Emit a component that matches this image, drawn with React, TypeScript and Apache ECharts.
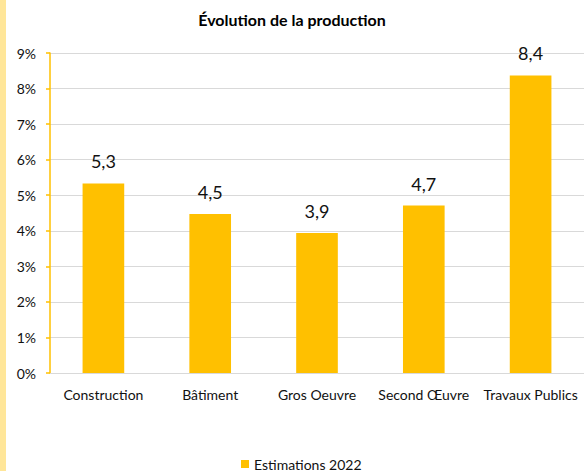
import React, { useEffect, useRef } from "react";
import * as echarts from "echarts";

const categories = ["Construction", "Bâtiment", "Gros Oeuvre", "Second Œuvre", "Travaux Publics"];
const values = [5.33, 4.47, 3.94, 4.71, 8.37];
const seriesName = "Estimations 2022";
const title = "Évolution de la production";

export default function App() {
  const ref = useRef<HTMLDivElement>(null);
  useEffect(() => {
    const chart = echarts.init(ref.current!, undefined, { renderer: "svg" });
    const font = "Lato, 'Open Sans', sans-serif";
    const txt = "#111";
    chart.setOption({
      animation: false,
      backgroundColor: "#fff",
      textStyle: { fontFamily: font },
      title: {
        text: title,
        left: "center",
        top: 11,
        padding: 0,
        textStyle: { fontSize: 16, fontWeight: "bold", color: "#000", fontFamily: font },
      },
      graphic: [
        { type: "rect", left: 0, top: 0, shape: { width: 6, height: 471 }, style: { fill: "#FFE699" } },
      ],
      legend: {
        top: 457,
        left: 241,
        padding: 0,
        itemWidth: 8,
        itemHeight: 8,
        icon: "rect",
        textStyle: { fontSize: 14, color: txt, fontFamily: font },
        data: [seriesName],
      },
      grid: { left: 50, right: 0, top: 53, bottom: 98 },
      xAxis: {
        type: "category",
        data: categories,
        axisLine: { lineStyle: { color: "#D9D9D9", width: 1 } },
        axisTick: { show: false },
        axisLabel: { color: txt, fontSize: 14, margin: 14, interval: 0, fontFamily: font },
      },
      yAxis: {
        type: "value",
        min: 0,
        max: 9,
        interval: 1,
        axisLine: { show: true, lineStyle: { color: "#FFC000", width: 1.5 } },
        axisTick: { show: true, length: 4, lineStyle: { color: "#FFC000", width: 1.5 } },
        axisLabel: { color: txt, fontSize: 14, margin: 14, formatter: "{value}%", fontFamily: font },
        splitLine: { lineStyle: { color: "#D9D9D9", width: 1 } },
      },
      series: [
        {
          name: seriesName,
          type: "bar",
          data: values,
          barWidth: "39%",
          itemStyle: { color: "#FFC000" },
          label: {
            show: true,
            position: "top",
            distance: 13,
            fontSize: 18,
            color: txt,
            fontFamily: font,
            formatter: (p: any) => p.value.toFixed(1).replace(".", ","),
          },
        },
      ],
    });
    return () => chart.dispose();
  }, []);
  return <div ref={ref} style={{ position: "fixed", left: 0, top: 0, width: 584, height: 471 }} />;
}
